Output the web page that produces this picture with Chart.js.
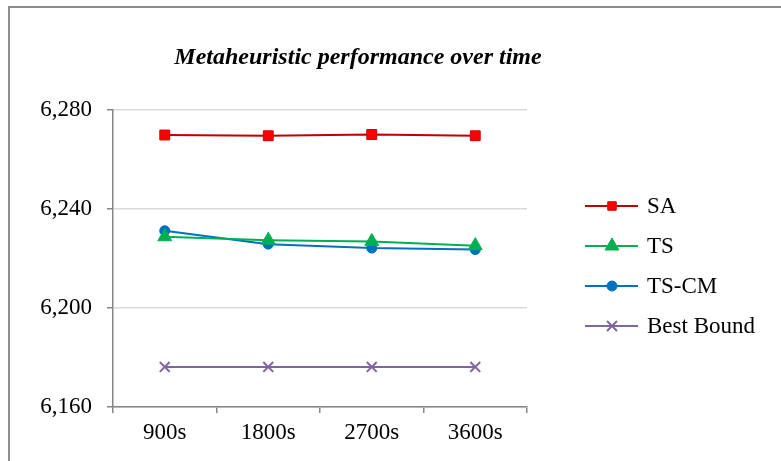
<!DOCTYPE html>
<html>
<head>
<meta charset="utf-8">
<script src="https://cdn.jsdelivr.net/npm/chart.js@4/dist/chart.umd.min.js"></script>
<style>
  body { margin: 0; background: #fff; }
  canvas { display: block; }
</style>
</head>
<body>
<canvas id="perfChart" width="781" height="461"></canvas>
<script>
// values
const timeLabels = ['900s', '1800s', '2700s', '3600s'];
const saValues = [6269.9, 6269.6, 6270.1, 6269.6];
const tsValues = [6228.8, 6227.4, 6226.9, 6225.2];
const tscmValues = [6231.2, 6225.8, 6224.2, 6223.6];
const boundValues = [6176.2, 6176.2, 6176.2, 6176.2];
const yTicks = [6160, 6200, 6240, 6280];
const chartTitle = 'Metaheuristic performance over time';

const serif = '"Liberation Serif", "Times New Roman", serif';
const axisGray = '#868686';

// frame, title and an Excel-like legend (line with marker in the middle)
const decorPlugin = {
    id: 'decor',
    beforeDraw(chart) {
        const ctx = chart.ctx;
        ctx.save();
        ctx.strokeStyle = '#8c8c8c';
        ctx.lineWidth = 2;
        ctx.strokeRect(9, 7, 900, 900);
        ctx.restore();
    },
    afterDraw(chart) {
        const ctx = chart.ctx;
        ctx.save();
        ctx.fillStyle = '#000';
        ctx.font = 'italic bold 24px ' + serif;
        ctx.textAlign = 'center';
        ctx.textBaseline = 'middle';
        ctx.fillText(chartTitle, 358, 58);

        ctx.font = '23px ' + serif;
        ctx.textAlign = 'left';
        chart.data.datasets.forEach(function(ds, i) {
            const y = 206 + i * 40;
            ctx.strokeStyle = ds.borderColor;
            ctx.lineWidth = ds.borderWidth;
            ctx.beginPath();
            ctx.moveTo(585, y);
            ctx.lineTo(638, y);
            ctx.stroke();
            ctx.fillStyle = ds.pointBackgroundColor;
            ctx.strokeStyle = ds.pointBorderColor;
            ctx.lineWidth = ds.pointBorderWidth;
            Chart.helpers.drawPoint(ctx, {
                pointStyle: ds.pointStyle,
                rotation: 0,
                radius: ds.legendRadius,
                borderWidth: ds.pointBorderWidth
            }, 612, y);
            ctx.fillStyle = '#000';
            ctx.fillText(ds.label, 647, y + 1);
        });
        ctx.restore();
    }
};

new Chart(document.getElementById('perfChart'), {
    type: 'line',
    data: {
        labels: timeLabels,
        datasets: [
            { label: 'SA', data: saValues, borderColor: '#c00000', borderWidth: 2,
              pointStyle: 'rect', pointRadius: 7, legendRadius: 6,
              pointBackgroundColor: '#ff0000', pointBorderColor: '#d00000', pointBorderWidth: 1 },
            { label: 'TS', data: tsValues, borderColor: '#00b050', borderWidth: 2,
              pointStyle: 'triangle', pointRadius: 8, legendRadius: 8,
              pointBackgroundColor: '#00b050', pointBorderColor: '#00b050', pointBorderWidth: 1 },
            { label: 'TS-CM', data: tscmValues, borderColor: '#0070c0', borderWidth: 2,
              pointStyle: 'circle', pointRadius: 5, legendRadius: 5,
              pointBackgroundColor: '#0070c0', pointBorderColor: '#0070c0', pointBorderWidth: 1 },
            { label: 'Best Bound', data: boundValues, borderColor: '#8064a2', borderWidth: 2,
              pointStyle: 'crossRot', pointRadius: 7, legendRadius: 7,
              pointBackgroundColor: '#8064a2', pointBorderColor: '#8064a2', pointBorderWidth: 2 }
        ]
    },
    options: {
        responsive: false,
        animation: false,
        layout: { padding: { top: 110, right: 254, left: 0, bottom: 0 } },
        plugins: {
            legend: { display: false },
            title: { display: false },
            tooltip: { enabled: false }
        },
        elements: { line: { tension: 0 } },
        scales: {
            x: {
                offset: true,
                grid: { offset: true, drawOnChartArea: false, tickLength: 6, tickColor: axisGray, lineWidth: 1.5 },
                border: { color: axisGray, width: 1.5 },
                ticks: { color: '#000', font: { family: serif, size: 23 }, padding: 6, maxRotation: 0 },
                afterFit(scale) { scale.height = 54; }
            },
            y: {
                min: 6160,
                max: 6280,
                afterBuildTicks(scale) { scale.ticks = yTicks.map(v => ({ value: v })); },
                grid: { color: '#d9d9d9', lineWidth: 1.5, tickLength: 6, tickColor: axisGray },
                border: { color: axisGray, width: 1.5 },
                ticks: {
                    color: '#000',
                    font: { family: serif, size: 23 },
                    padding: 15,
                    callback: v => v.toLocaleString('en-US')
                },
                afterFit(scale) { scale.width = 113; }
            }
        }
    },
    plugins: [decorPlugin]
});
</script>
</body>
</html>
